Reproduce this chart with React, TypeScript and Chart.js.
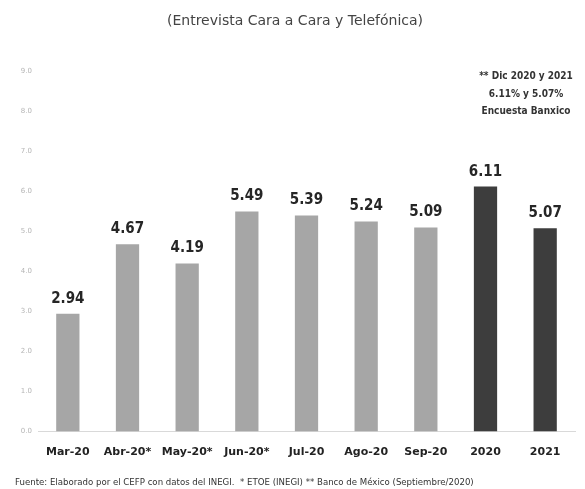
import React, { useEffect, useRef } from "react";
import { Chart, registerables } from "chart.js";

Chart.register(...registerables);

const categories = ["Mar-20", "Abr-20*", "May-20*", "Jun-20*", "Jul-20", "Ago-20", "Sep-20", "2020", "2021"];
const values = [2.94, 4.67, 4.19, 5.49, 5.39, 5.24, 5.09, 6.11, 5.07];
const isBanxico = [false, false, false, false, false, false, false, true, true];
const titleText = "(Entrevista Cara a Cara y Telefónica)";
const footnoteText =
  "Fuente: Elaborado por el CEFP con datos del INEGI.  * ETOE (INEGI) ** Banco de México (Septiembre/2020)";
const noteLines = ["** Dic 2020 y 2021", "6.11% y 5.07%", "Encuesta Banxico"];

const LIGHT = "#a6a6a6";
const DARK = "#3d3d3d";

const valueLabels = {
  id: "valueLabels",
  afterDatasetsDraw(chart: any) {
    const ctx = chart.ctx;
    const meta = chart.getDatasetMeta(0);
    ctx.save();
    ctx.font = "bold 15px 'DejaVu Sans Condensed', 'DejaVu Sans'";
    ctx.fillStyle = "#262626";
    ctx.textAlign = "center";
    ctx.textBaseline = "middle";
    meta.data.forEach((bar: any, i: number) => {
      ctx.fillText(values[i].toFixed(2), bar.x, bar.y - 15);
    });
    ctx.restore();
  },
};

const noteBox = {
  id: "noteBox",
  afterDraw(chart: any) {
    const ctx = chart.ctx;
    const { right, top } = chart.chartArea;
    ctx.save();
    ctx.font = "bold 10px 'DejaVu Sans Condensed', 'DejaVu Sans'";
    ctx.fillStyle = "#333333";
    ctx.textAlign = "center";
    ctx.textBaseline = "middle";
    const cx = right - 49;
    noteLines.forEach((t, i) => {
      ctx.fillText(t, cx, top + 6 + i * 17.5);
    });
    ctx.restore();
  },
};

export default function App() {
  const ref = useRef<HTMLCanvasElement | null>(null);
  useEffect(() => {
    if (!ref.current) return;
    const chart = new Chart(ref.current, {
      type: "bar",
      data: {
        labels: categories,
        datasets: [
          {
            data: values,
            backgroundColor: isBanxico.map((b) => (b ? DARK : LIGHT)),
            categoryPercentage: 1,
            barPercentage: 0.39,
          },
        ],
      },
      options: {
        animation: false,
        responsive: false,
        maintainAspectRatio: false,
        layout: { padding: { left: 15, right: 10, top: 0, bottom: 0 } },
        plugins: {
          legend: { display: false },
          tooltip: { enabled: false },
          title: {
            display: true,
            text: titleText,
            color: "#444444",
            font: { family: "'DejaVu Sans'", size: 14, weight: "normal" },
            padding: { top: 13, bottom: 41 },
          },
          subtitle: {
            display: true,
            position: "bottom",
            align: "start",
            text: footnoteText,
            color: "#333333",
            font: { family: "'DejaVu Sans'", size: 8.6, weight: "normal" },
            padding: { top: 5, bottom: 1 },
          },
        },
        scales: {
          x: {
            grid: { display: false, drawTicks: false },
            border: { display: true, color: "#d9d9d9", width: 1 },
            ticks: {
              color: "#222222",
              padding: 14,
              font: { family: "'DejaVu Sans'", size: 11, weight: "bold" },
              maxRotation: 0,
              autoSkip: false,
            },
          },
          y: {
            min: 0,
            max: 9,
            grid: { display: false, drawTicks: false },
            border: { display: false },
            afterFit: (s: any) => {
              s.width = 23;
            },
            ticks: {
              stepSize: 1,
              padding: 6,
              color: "#b5b5b5",
              font: { family: "'DejaVu Sans'", size: 7 },
              callback: (v: any) => Number(v).toFixed(1),
            },
          },
        },
      },
      plugins: [valueLabels, noteBox],
    });
    return () => chart.destroy();
  }, []);
  return (
    <div style={{ position: "fixed", left: 0, top: 0, width: 585, height: 489, background: "#ffffff" }}>
      <canvas ref={ref} width={585} height={489} style={{ width: 585, height: 489, display: "block" }} />
    </div>
  );
}
